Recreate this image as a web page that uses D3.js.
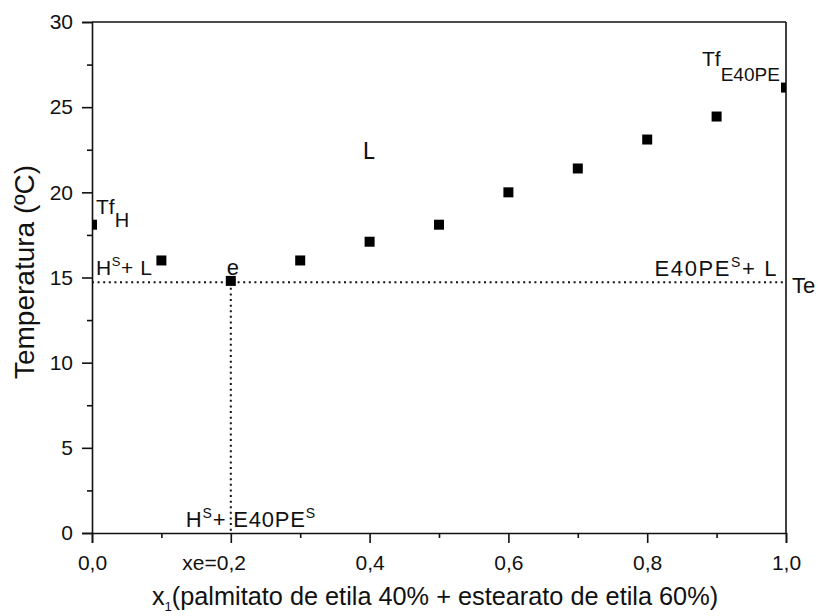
<!DOCTYPE html>
<html>
<head>
<meta charset="utf-8">
<script src="https://cdn.jsdelivr.net/npm/d3@7"></script>
<style>
  html, body { margin: 0; padding: 0; background: #fff; }
  svg { display: block; font-family: "Liberation Sans", Arial, sans-serif; }
</style>
</head>
<body>
<svg id="chart" width="818" height="616"></svg>
<script>
// ---- data ----
const xValues = [0.0, 0.1, 0.2, 0.3, 0.4, 0.5, 0.6, 0.7, 0.8, 0.9, 1.0];
const tempValues = [18.1, 16.0, 14.8, 16.0, 17.1, 18.1, 20.0, 21.4, 23.1, 24.45, 26.15];
const eutecticT = 14.72;
const eutecticX = 0.2;
const xTickValues = [0.0, 0.2, 0.4, 0.6, 0.8, 1.0];
const xTickLabels = ["0,0", "xe=0,2", "0,4", "0,6", "0,8", "1,0"];
const xMinorTicks = [0.1, 0.3, 0.5, 0.7, 0.9];
const yTickValues = [0, 5, 10, 15, 20, 25, 30];
const yMinorTicks = [2.5, 7.5, 12.5, 17.5, 22.5, 27.5];
const xLabel = ["x", "1", "(palmitato de etila 40% + estearato de etila 60%)"];
const yLabel = "Temperatura (ºC)";

// ---- layout ----
const svg = d3.select("#chart");
const M = { left: 92, top: 22, right: 818 - 786, bottom: 616 - 533 };
const W = 818 - M.left - M.right;
const H = 616 - M.top - M.bottom;
const ink = "#111";

const x = d3.scaleLinear().domain([0, 1]).range([0, W]);
const y = d3.scaleLinear().domain([0, 30]).range([H, 0]);

const g = svg.append("g").attr("transform", `translate(${M.left},${M.top})`);

svg.append("defs").append("clipPath").attr("id", "plotclip")
  .append("rect").attr("x", 0).attr("y", 0).attr("width", W).attr("height", H);

// frame (top & right)
g.append("line").attr("x1", 0).attr("x2", W).attr("y1", 0).attr("y2", 0)
  .attr("stroke", ink).attr("stroke-width", 1.6);
g.append("line").attr("x1", W).attr("x2", W).attr("y1", 0).attr("y2", H)
  .attr("stroke", ink).attr("stroke-width", 1.6);

// axes
const xAxis = d3.axisBottom(x).tickValues(xTickValues).tickSize(10).tickPadding(12)
  .tickFormat((d, i) => { const s = xTickLabels[i]; return s.includes("=") ? s.split("=")[1] : s; });
const gx = g.append("g").attr("transform", `translate(0,${H})`).call(xAxis);
g.append("g").attr("transform", `translate(0,${H})`)
  .call(d3.axisBottom(x).tickValues(xMinorTicks).tickSize(5).tickFormat(""))
  .call(a => a.select(".domain").remove());

const yAxis = d3.axisLeft(y).tickValues(yTickValues).tickSize(10).tickPadding(9);
const gy = g.append("g").call(yAxis);
g.append("g")
  .call(d3.axisLeft(y).tickValues(yMinorTicks).tickSize(5).tickFormat(""))
  .call(a => a.select(".domain").remove());

g.selectAll(".domain").attr("stroke", ink).attr("stroke-width", 1.6);
g.selectAll(".tick line").attr("stroke", ink).attr("stroke-width", 1.6);
g.selectAll(".tick text").attr("fill", ink).style("font-size", "21px")
  .style("font-family", "'Liberation Sans', Arial, sans-serif");

// prefix "xe=" on the eutectic tick
gx.selectAll(".tick").each(function(d, i) {
  const s = xTickLabels[i];
  if (s.includes("=")) {
    const t = d3.select(this).select("text");
    const w = t.node().getComputedTextLength();
    d3.select(this).append("text")
      .attr("x", -w / 2).attr("y", t.attr("y")).attr("dy", t.attr("dy"))
      .attr("text-anchor", "end").attr("fill", ink)
      .style("font-size", "21px")
      .text(s.split("=")[0] + "=");
  }
});

// dotted eutectic lines
g.append("line")
  .attr("x1", x(0)).attr("x2", x(1)).attr("y1", y(eutecticT)).attr("y2", y(eutecticT))
  .attr("stroke", ink).attr("stroke-width", 2).attr("stroke-dasharray", "2,3.6");
g.append("line")
  .attr("x1", x(eutecticX)).attr("x2", x(eutecticX)).attr("y1", y(eutecticT)).attr("y2", y(0))
  .attr("stroke", ink).attr("stroke-width", 2).attr("stroke-dasharray", "2,3.6");

// markers
const S = 10;
g.append("g").attr("clip-path", "url(#plotclip)")
  .selectAll("rect").data(xValues).join("rect")
  .attr("x", (d) => x(d) - S / 2)
  .attr("y", (d, i) => y(tempValues[i]) - S / 2)
  .attr("width", S).attr("height", S).attr("fill", "#000");

// annotations
const ann = g.append("g").attr("fill", ink).style("font-size", "22px");
function rich(px, py, parts, opts = {}) {
  const t = ann.append("text").attr("x", px).attr("y", py);
  if (opts.anchor) t.attr("text-anchor", opts.anchor);
  if (opts.family) t.style("font-family", opts.family);
  if (opts.size) t.style("font-size", opts.size);
  if (opts.ls) t.style("letter-spacing", opts.ls);
  parts.forEach(p => {
    const ts = t.append("tspan").text(p.t);
    if (p.sup) ts.attr("dy", p.sup).style("font-size", p.fs || "14px");
    if (p.back) ts.attr("dy", p.back);
    if (p.fs && !p.sup) ts.style("font-size", p.fs);
  });
  return t;
}
// Tf_H
rich(x(0) + 4, y(18.7), [{ t: "Tf" }, { t: "H", sup: "13", fs: "20px" }], { size: "21px" });
// H^S + L
rich(x(0) + 4, y(15.15), [{ t: "H" }, { t: "S", sup: "-9", fs: "13px" }, { t: "+ L", back: "9" }], { size: "21px", ls: "0.6px" });
// e
rich(x(eutecticX) - 4, y(15.15), [{ t: "e" }]);
// L
rich(x(0.39), y(21.95), [{ t: "L" }], { family: "Lato, 'Open Sans', sans-serif", size: "23px" });
// Tf_E40PE
rich(x(1) - 84, y(27.4), [{ t: "Tf" }, { t: "E40PE", sup: "15", fs: "19px" }], { size: "21px" });
// E40PE^S + L
rich(x(1) - 8, y(15.1), [{ t: "E40PE" }, { t: "S", sup: "-9", fs: "14px" }, { t: "+ L", back: "9" }], { anchor: "end", ls: "1.6px" });
// Te
rich(x(1) + 6, y(14.1), [{ t: "Te" }]);
// H^S + E40PE^S
rich(x(eutecticX) - 45, y(0.37), [{ t: "H" }, { t: "S", sup: "-9", fs: "14px" }, { t: "+ E40PE", back: "9" }, { t: "S", sup: "-9", fs: "14px" }], { ls: "0.8px" });

// axis titles
const xt = svg.append("text")
  .attr("x", M.left + W / 2 - 4).attr("y", 605)
  .attr("text-anchor", "middle").attr("fill", ink).style("font-size", "25.3px");
xt.append("tspan").text(xLabel[0]);
xt.append("tspan").text(xLabel[1]).attr("dy", "6").style("font-size", "13px");
xt.append("tspan").text(xLabel[2]).attr("dy", "-6");

svg.append("text")
  .attr("transform", `translate(34,${272}) rotate(-90)`)
  .attr("text-anchor", "middle").attr("fill", ink).style("font-size", "28px")
  .text(yLabel);
</script>
</body>
</html>
